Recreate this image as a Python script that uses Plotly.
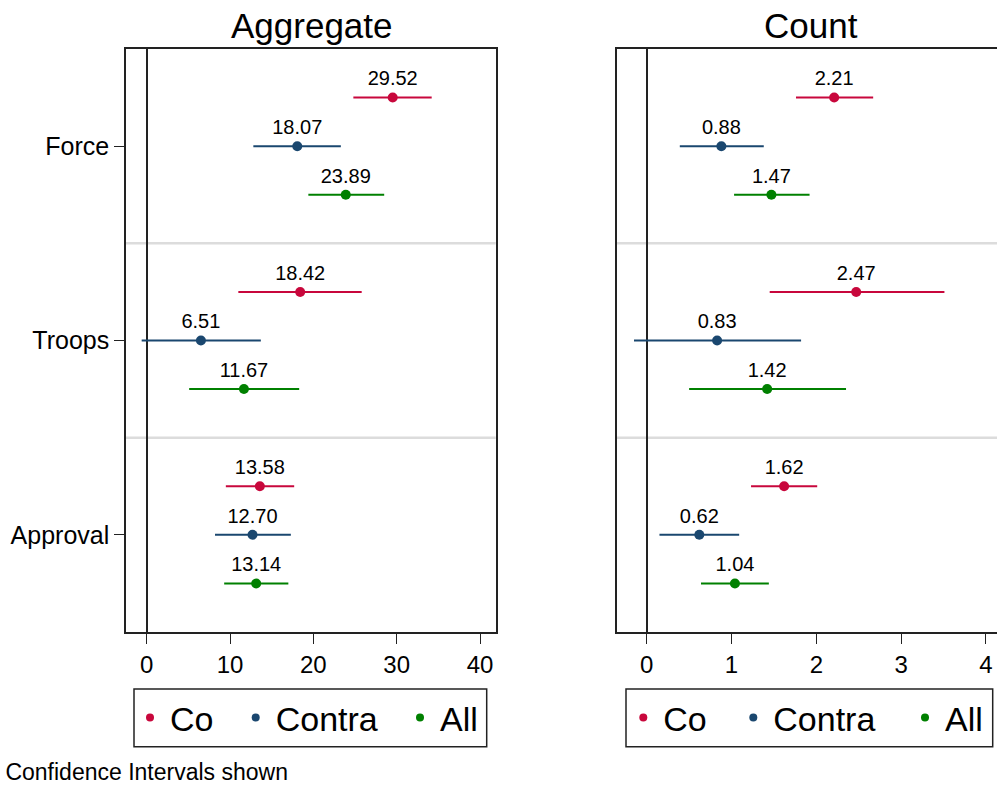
import plotly.graph_objects as go

# ---------------- data ----------------
groups = ["Force", "Troops", "Approval"]
series = ["Co", "Contra", "All"]
colors = ["#c8073c", "#1a476f", "#008000"]

# Aggregate panel: estimates and 95% CI bounds (per group)
agg_co = [29.52, 18.42, 13.58]
agg_co_lo = [24.8, 11.0, 9.5]
agg_co_hi = [34.2, 25.8, 17.7]
agg_contra = [18.07, 6.51, 12.70]
agg_contra_lo = [12.8, -0.6, 8.2]
agg_contra_hi = [23.3, 13.7, 17.3]
agg_all = [23.89, 11.67, 13.14]
agg_all_lo = [19.4, 5.1, 9.3]
agg_all_hi = [28.5, 18.3, 17.0]

# Count panel
cnt_co = [2.21, 2.47, 1.62]
cnt_co_lo = [1.76, 1.45, 1.23]
cnt_co_hi = [2.67, 3.51, 2.01]
cnt_contra = [0.88, 0.83, 0.62]
cnt_contra_lo = [0.39, -0.15, 0.15]
cnt_contra_hi = [1.38, 1.82, 1.09]
cnt_all = [1.47, 1.42, 1.04]
cnt_all_lo = [1.03, 0.50, 0.64]
cnt_all_hi = [1.92, 2.35, 1.44]

agg_ticks = [0, 10, 20, 30, 40]
cnt_ticks = [0, 1, 2, 3, 4]
footnote = "95% Confidence Intervals shown"

# ---------------- figure ----------------
FONT = "Liberation Sans, Arial, Helvetica, sans-serif"
W, H = 997, 786
offsets = [-0.25, 0.0, 0.25]

fig = go.Figure()

panels = [
    ("x", "y", "legend", [60.7, 119.3, 40],
     [(agg_co, agg_co_lo, agg_co_hi), (agg_contra, agg_contra_lo, agg_contra_hi), (agg_all, agg_all_lo, agg_all_hi)]),
    ("x2", "y2", "legend2", [65, 126.7, 40],
     [(cnt_co, cnt_co_lo, cnt_co_hi), (cnt_contra, cnt_contra_lo, cnt_contra_hi), (cnt_all, cnt_all_lo, cnt_all_hi)]),
]

for xa, ya, leg, lwidths, data in panels:
    for s_idx, (est, lo, hi) in enumerate(data):
        ypos = [g + offsets[s_idx] for g in range(len(groups))]
        fig.add_trace(go.Scatter(
            x=est, y=ypos, xaxis=xa, yaxis=ya,
            mode="markers+text",
            text=[f"{v:.2f}" for v in est],
            textposition="top center",
            textfont=dict(family=FONT, size=20, color="black"),
            marker=dict(color=colors[s_idx], size=10),
            error_x=dict(type="data", symmetric=False,
                         array=[h - e for h, e in zip(hi, est)],
                         arrayminus=[e - l for e, l in zip(est, lo)],
                         color=colors[s_idx], thickness=2, width=0),
            showlegend=False, hoverinfo="skip", cliponaxis=False,
        ))
        # legend entry
        fig.add_trace(go.Scatter(
            x=[None], y=[None], xaxis=xa, yaxis=ya, mode="markers",
            marker=dict(color=colors[s_idx], size=8),
            name=series[s_idx], legend=leg, showlegend=True,
            legendwidth=lwidths[s_idx],
        ))

# domains (pixel-derived)
ytop, ybot = 49, 632
ydom = [1 - ybot / H, 1 - ytop / H]
x1dom = [126 / W, 495.7 / W]
x2dom = [616.7 / W, 1.0]

axis_common = dict(
    showgrid=False, ticks="outside", ticklen=10, tickwidth=1.3, tickcolor="#222",
    tickfont=dict(family=FONT, size=24, color="black"),
    showline=True, linecolor="#222", linewidth=1.5,
)

leg_common = dict(orientation="h", xanchor="left", yanchor="middle", y=1 - 718 / H,
                  borderwidth=0, bgcolor="rgba(0,0,0,0)",
                  font=dict(family=FONT, size=34, color="black"))

fig.update_layout(
    width=W, height=H, margin=dict(l=0, r=0, t=0, b=0),
    paper_bgcolor="white", plot_bgcolor="white",
    font=dict(family=FONT, color="black"),
    xaxis=dict(domain=x1dom, range=[-2.48, 41.88], tickvals=agg_ticks, anchor="y",
               mirror=True, zeroline=True, zerolinecolor="#222", zerolinewidth=1.5, **axis_common),
    yaxis=dict(domain=ydom, range=[2.5, -0.5], tickvals=list(range(len(groups))), ticktext=groups,
               anchor="x", mirror=True, zeroline=False,
               **{**axis_common, "tickfont": dict(family=FONT, size=25, color="black")}),
    xaxis2=dict(domain=x2dom, range=[-0.354, 4.13], tickvals=cnt_ticks, anchor="y2",
                mirror=True, zeroline=True, zerolinecolor="#222", zerolinewidth=1.5, **axis_common),
    yaxis2=dict(domain=ydom, range=[2.5, -0.5], anchor="x2", showticklabels=False,
                showgrid=False, zeroline=False, ticks="", showline=True, linecolor="#222",
                linewidth=1.5, mirror=False),
    legend=dict(x=130 / W, **leg_common),
    legend2=dict(x=623.3 / W, **leg_common),
)

# legend frames
for x0, x1 in ((134, 486.7), (626, 992.7)):
    fig.add_shape(type="rect", xref="paper", yref="paper",
                  x0=x0 / W, x1=x1 / W, y0=1 - 746.7 / H, y1=1 - 689 / H,
                  line=dict(color="#222", width=1.5), fillcolor="rgba(0,0,0,0)", layer="below")

# light gray separators between groups
for xr, yr in (("x domain", "y"), ("x2 domain", "y2")):
    for g in range(len(groups) - 1):
        fig.add_shape(type="line", xref=xr, yref=yr, x0=0, x1=1, y0=g + 0.5, y1=g + 0.5,
                      line=dict(color="#dcdcdc", width=2.5), layer="below")

# panel titles
fig.add_annotation(text="Aggregate", xref="paper", yref="paper", x=311.5 / W, y=1 - 25 / H,
                   showarrow=False, xanchor="center", yanchor="middle",
                   font=dict(family=FONT, size=35, color="black"))
fig.add_annotation(text="Count", xref="paper", yref="paper", x=811 / W, y=1 - 25 / H,
                   showarrow=False, xanchor="center", yanchor="middle",
                   font=dict(family=FONT, size=35, color="black"))

# footnote (left part runs past the page edge, as in the reference)
fig.add_annotation(text=footnote, xref="paper", yref="paper", x=290 / W, y=1 - 772 / H,
                   showarrow=False, xanchor="right", yanchor="middle",
                   font=dict(family=FONT, size=23, color="black"))

fig.write_html("out.html")
